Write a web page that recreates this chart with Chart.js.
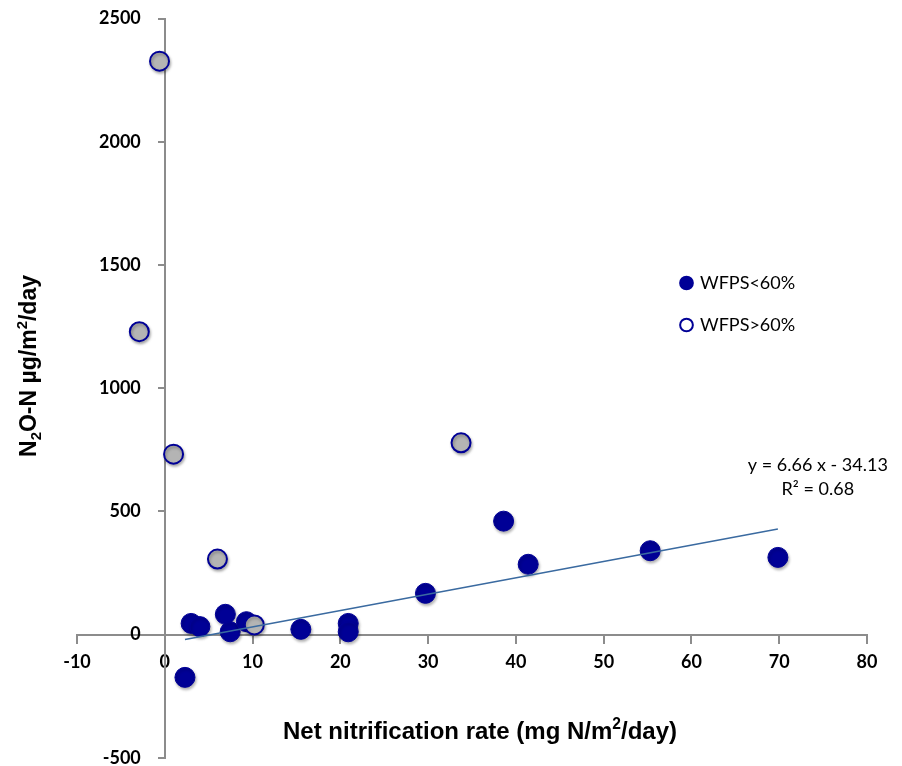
<!DOCTYPE html>
<html>
<head>
<meta charset="utf-8">
<script src="https://cdn.jsdelivr.net/npm/chart.js@4.4.1/dist/chart.umd.min.js"></script>
<style>
  html, body { margin: 0; padding: 0; background: #fff; }
  #wrap { width: 902px; height: 766px; position: relative; }
</style>
</head>
<body>
<div id="wrap"><canvas id="chart"></canvas></div>
<script>
// --- values ---
// WFPS<60% (filled markers)
const lowX = [2.3, 3.0, 4.0, 6.9, 7.45, 9.3, 15.5, 20.9, 20.9, 29.7, 38.6, 41.4, 55.3, 69.85];
const lowY = [-174, 45, 32, 82, 11, 52, 21, 45, 11, 167, 460, 285, 340, 313];
// WFPS>60% (open markers)
const highX = [-0.6, -2.9, 1.0, 6.0, 10.2, 33.75];
const highY = [2327, 1229, 732, 306, 39, 778];
// linear trend through the WFPS<60% points (end points)
const trendX = [2.3, 69.85];
const trendY = [-20, 428];

const seriesNames = ['WFPS<60%', 'WFPS>60%'];
const xTicks = [-10, 80, 10];   // min, max, step
const yTicks = [-500, 2500, 500];
const eqLines = ['y = 6.66 x - 34.13', 'R\u00B2 = 0.68'];

const NAVY = '#000096';
const toPts = (xs, ys) => xs.map((x, i) => ({x: x, y: ys[i]}));

// --- helpers for the axis titles (sub / superscripts) ---
function richWidth(ctx, parts, size, weight, family) {
  let w = 0;
  parts.forEach(p => {
    const s = p[1] ? size * 0.65 : size;
    ctx.font = `${weight} ${s}px ${family}`;
    w += ctx.measureText(p[0]).width;
  });
  return w;
}
function drawRich(ctx, parts, cx, cy, size, weight, family) {
  let x = cx - richWidth(ctx, parts, size, weight, family) / 2;
  ctx.textBaseline = 'middle';
  ctx.textAlign = 'left';
  parts.forEach(p => {
    const s = p[1] ? size * 0.65 : size;
    ctx.font = `${weight} ${s}px ${family}`;
    let dy = 0;
    if (p[1] === 1) dy = -size * 0.3;   // superscript
    if (p[1] === -1) dy = size * 0.28;  // subscript
    ctx.fillText(p[0], x, cy + dy);
    x += ctx.measureText(p[0]).width;
  });
}

const decorPlugin = {
  id: 'decor',
  afterLayout(chart) {
    // park the legend inside the plot, right side
    const lg = chart.legend;
    lg.left = 658; lg.top = 250; lg.right = 860; lg.bottom = 450;
  },
  beforeDatasetDraw(chart, args) {
    const ctx = chart.ctx;
    ctx.save();
    if (args.index < 2) {
      ctx.shadowColor = 'rgba(0,0,0,0.3)';
      ctx.shadowBlur = 3;
      ctx.shadowOffsetX = 1;
      ctx.shadowOffsetY = 2;
    }
  },
  afterDatasetDraw(chart) {
    chart.ctx.restore();
  },
  afterDraw(chart) {
    const ctx = chart.ctx;
    const {x, y} = chart.scales;
    ctx.save();
    ctx.fillStyle = '#000';
    // trend equation
    ctx.font = '18px Lato';
    ctx.textAlign = 'center';
    ctx.textBaseline = 'middle';
    const ex = x.getPixelForValue(74.4);
    const ey = y.getPixelForValue(686);
    ctx.fillText(eqLines[0], ex, ey);
    ctx.fillText(eqLines[1], ex, ey + 24);
    // x title
    drawRich(ctx, [['Net nitrification rate (mg N/m', 0], ['2', 1], ['/day)', 0]],
      480, 732, 24, 'bold', '"Liberation Sans", Arial');
    // y title
    ctx.translate(30, 366);
    ctx.rotate(-Math.PI / 2);
    drawRich(ctx, [['N', 0], ['2', -1], ['O-N \u00B5g/m', 0], ['2', 1], ['/day', 0]],
      0, 0, 23, 'bold', '"Liberation Sans", Arial');
    ctx.restore();
  }
};

const axisGrey = '#8c8c8c';
const tickFont = {family: 'Lato', size: 18, weight: 'bold'};
const plain = v => String(v);
// axes take no room of their own: the plot area is set by layout.padding
function noRoom(scale) {
  if (scale.isHorizontal()) scale.height = 0; else scale.width = 0;
  scale.paddingTop = scale.paddingBottom = scale.paddingLeft = scale.paddingRight = 0;
}

new Chart(document.getElementById('chart'), {
  type: 'scatter',
  data: {
    datasets: [
      {
        label: seriesNames[0],
        data: toPts(lowX, lowY),
        pointStyle: 'circle',
        pointRadius: 10,
        backgroundColor: NAVY,
        borderColor: NAVY,
        borderWidth: 1,
        order: 2
      },
      {
        label: seriesNames[1],
        data: toPts(highX, highY),
        pointStyle: 'circle',
        pointRadius: 9.5,
        backgroundColor: '#b4b4b4',
        borderColor: NAVY,
        borderWidth: 2,
        order: 1
      },
      {
        label: 'trend',
        data: toPts(trendX, trendY),
        showLine: true,
        pointRadius: 0,
        borderColor: '#3a6aa0',
        borderWidth: 1.5,
        order: 0
      }
    ]
  },
  options: {
    responsive: true,
    maintainAspectRatio: false,
    animation: false,
    layout: {autoPadding: false, padding: {left: 77, right: 35, top: 18.5, bottom: 8.3}},
    scales: {
      x: {
        type: 'linear',
        position: {y: 0},
        min: xTicks[0], max: xTicks[1],
        ticks: {stepSize: xTicks[2], font: tickFont, color: '#000', padding: 9, maxRotation: 0, callback: plain},
        grid: {drawOnChartArea: false, drawTicks: true, tickLength: 8, color: axisGrey, lineWidth: 2},
        border: {display: true, color: axisGrey, width: 2},
        afterFit: noRoom
      },
      // axis line + tick marks crossing at x = 0
      y: {
        type: 'linear',
        position: {x: 0},
        min: yTicks[0], max: yTicks[1],
        ticks: {stepSize: yTicks[2], display: false},
        grid: {drawOnChartArea: false, drawTicks: true, tickLength: 6, color: axisGrey, lineWidth: 2},
        border: {display: true, color: axisGrey, width: 2},
        afterFit: noRoom
      },
      // same range, only carries the tick labels, right-aligned next to the x = 0 axis
      yl: {
        type: 'linear',
        position: 'left',
        min: yTicks[0], max: yTicks[1],
        ticks: {stepSize: yTicks[2], font: tickFont, color: '#000', mirror: true, crossAlign: 'far',
                padding: 22, callback: plain},
        grid: {display: false, drawTicks: false},
        border: {display: false},
        afterFit: noRoom
      }
    },
    plugins: {
      tooltip: {enabled: false},
      legend: {
        position: 'chartArea',
        align: 'start',
        labels: {
          usePointStyle: true,
          boxWidth: 9,
          boxHeight: 9,
          padding: 24,
          color: '#000',
          font: {family: 'Lato', size: 18},
          filter: item => item.datasetIndex < 2,
          sort: (a, b) => a.datasetIndex - b.datasetIndex,
          generateLabels(chart) {
            const items = Chart.defaults.plugins.legend.labels.generateLabels(chart);
            items.forEach(it => {
              it.lineWidth = 2;
              it.strokeStyle = NAVY;
              it.fillStyle = it.datasetIndex === 1 ? '#fff' : NAVY;
            });
            return items;
          }
        }
      }
    }
  },
  plugins: [decorPlugin]
});
</script>
</body>
</html>
